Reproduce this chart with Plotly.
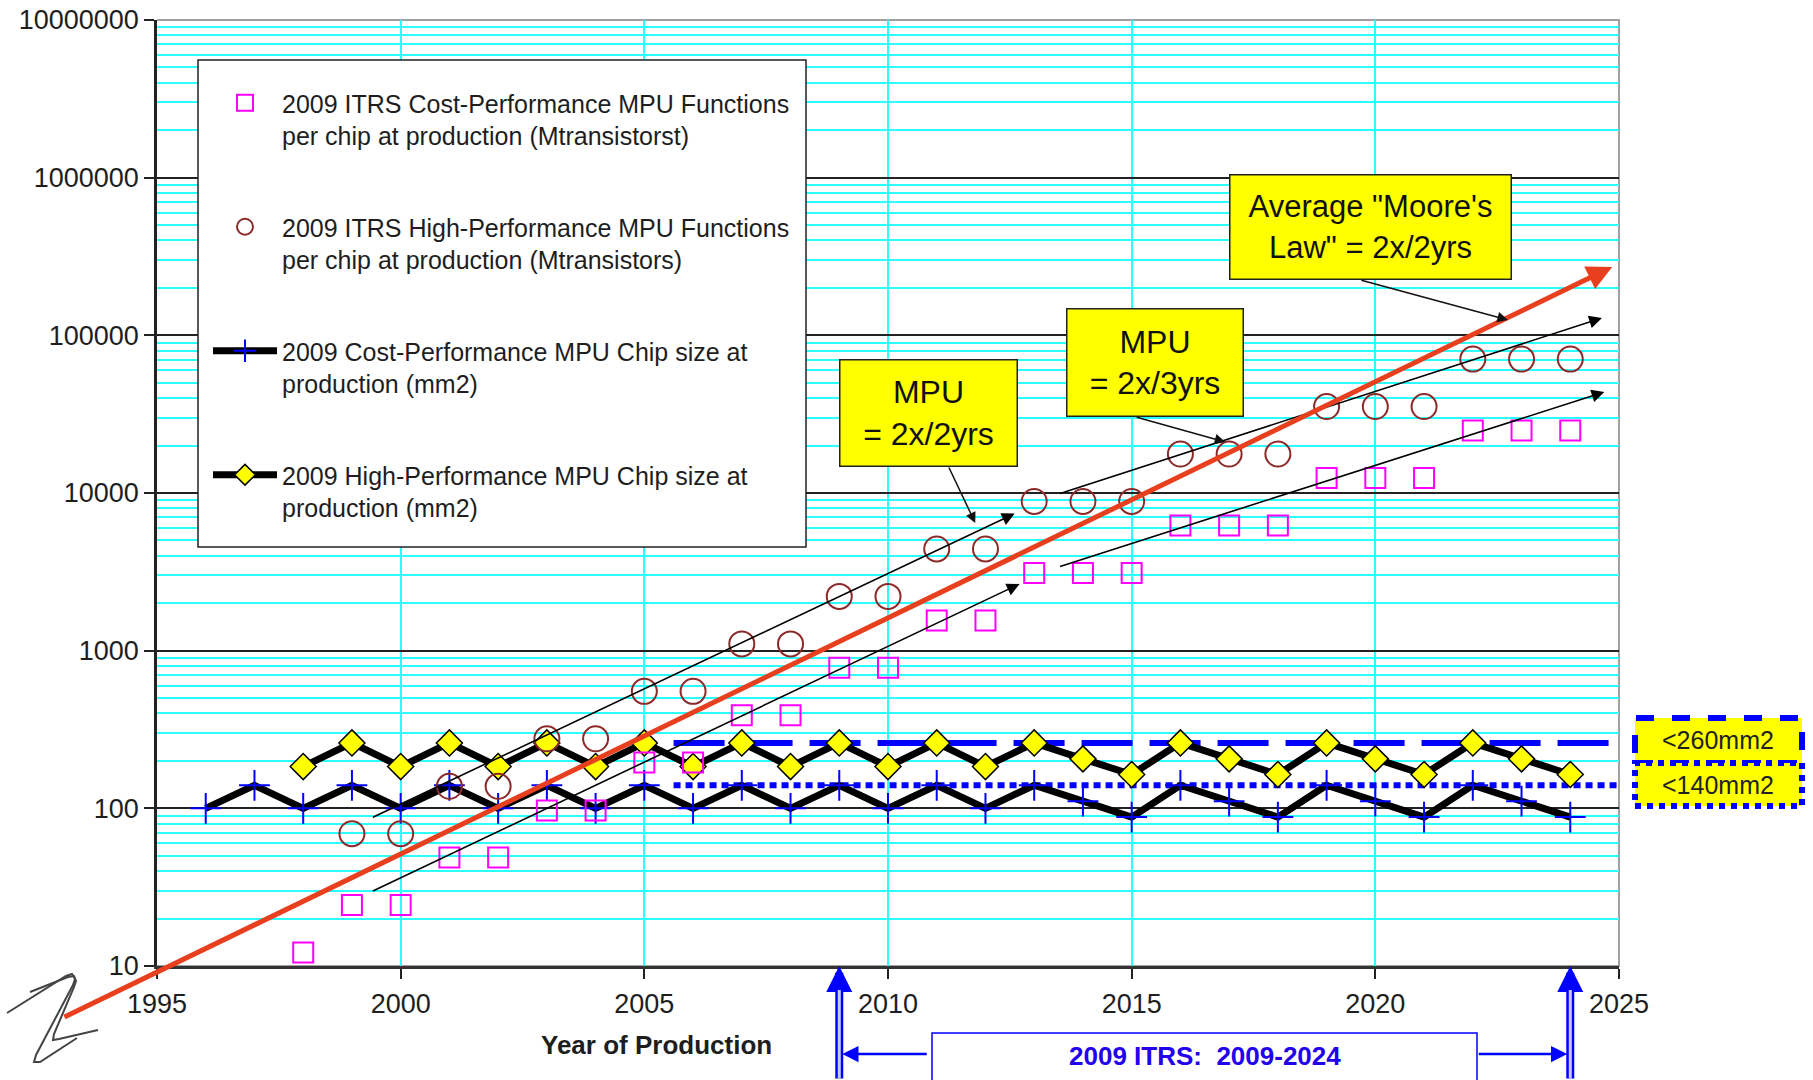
import numpy as np
import plotly.graph_objects as go

# ---------------- data ----------------
cp_fn_years = list(range(1998, 2025))
cp_functions = [12.2, 24.4, 24.4, 48.7, 48.7, 97, 97, 195, 195, 389, 389, 778, 778,
                1556, 1556, 3111, 3111, 3111, 6222, 6222, 6222, 12445, 12445, 12445,
                24890, 24890, 24890]

hp_fn_years = list(range(1999, 2025))
hp_functions = [69, 69, 138, 138, 276, 276, 552, 552, 1104, 1104, 2209, 2209, 4417, 4417,
                8834, 8834, 8834, 17668, 17668, 17668, 35337, 35337, 35337,
                70674, 70674, 70674]

cp_chip_years = list(range(1996, 2025))
cp_chip_size = [100, 140, 100, 140, 100, 140, 100, 140, 100, 140, 100, 140, 100, 140, 100,
                140, 100, 140, 111, 88, 140, 111, 88, 140, 111, 88, 140, 111, 88]

hp_chip_years = list(range(1998, 2025))
hp_chip_size = [184, 260, 184, 260, 184, 260, 184, 260, 184, 260, 184, 260, 184, 260, 184,
                260, 206, 164, 260, 206, 164, 260, 206, 164, 260, 206, 164]

limit_start = 2005.6
limit_end = 2025
limit_values = [260, 140]
limit_labels = ["<260mm2", "<140mm2"]

# trend arrows: start/end year and value
trend_x0 = [1999.4, 1999.4, 2013.5, 2013.5]
trend_y0 = [87, 29.6, 9860, 3400]
trend_x1 = [2012.6, 2012.7, 2024.65, 2024.7]
trend_y1 = [7400, 2650, 128800, 43700]

moore_years = [1993.07, 2024.86]
moore_values = [4.7, 271600]

itrs_window = [2009, 2024]

x_ticks = [1995, 2000, 2005, 2010, 2015, 2020, 2025]
y_ticks = [10, 100, 1000, 10000, 100000, 1000000, 10000000]
y_ticktext = ["10", "100", "1000", "10000", "100000", "1000000", "10000000"]

# ---------------- geometry helpers (canvas pixels -> paper) ----------------
W, H = 1813, 1080
ML, MR, MT, MB = 157, 194, 20, 114
PW, PH = W - ML - MR, H - MT - MB


def px(x):
    return (x - ML) / PW


def py(y):
    return (H - MB - y) / PH


FONT = "Liberation Sans, Arial, sans-serif"
TXT = "#1e1e1e"
CYAN = "#2cffff"
BLUE = "#0000ff"

fig = go.Figure()

# reference levels for chip size
fig.add_trace(go.Scatter(x=[limit_start, limit_end], y=[limit_values[0]] * 2, mode="lines",
                         line=dict(color=BLUE, width=6, dash="51px,17px"),
                         showlegend=False, hoverinfo="skip"))
fig.add_trace(go.Scatter(x=[limit_start, limit_end], y=[limit_values[1]] * 2, mode="lines",
                         line=dict(color=BLUE, width=6, dash="7px,5px"),
                         showlegend=False, hoverinfo="skip"))

fig.add_trace(go.Scatter(
    x=cp_chip_years, y=cp_chip_size, mode="lines+markers",
    name="2009 Cost-Performance MPU Chip size at<br>production (mm2)",
    line=dict(color="black", width=7),
    marker=dict(symbol="cross-thin-open", size=22, color=BLUE, line=dict(color=BLUE, width=2)),
    legendgroup="c", legendrank=3))
fig.add_trace(go.Scatter(
    x=hp_chip_years, y=hp_chip_size, mode="lines+markers",
    name="2009 High-Performance MPU Chip size at<br>production (mm2)",
    line=dict(color="black", width=7),
    marker=dict(symbol="diamond", size=20, color="#ffff00", line=dict(color="black", width=1.5)),
    legendgroup="d", legendrank=4))
fig.add_trace(go.Scatter(
    x=cp_fn_years, y=cp_functions, mode="markers",
    name="2009 ITRS Cost-Performance MPU Functions<br>per chip at production (Mtransistorst)",
    marker=dict(symbol="square-open", size=20, color="#ff00ff", line=dict(width=2)),
    legendgroup="a", legendrank=1))
fig.add_trace(go.Scatter(
    x=hp_fn_years, y=hp_functions, mode="markers",
    name="2009 ITRS High-Performance MPU Functions<br>per chip at production (Mtransistors)",
    marker=dict(symbol="circle-open", size=25, color="#8c2a2a", line=dict(width=2)),
    legendgroup="b", legendrank=2))

shapes = []
annotations = []

# legend frame
shapes.append(dict(type="rect", xref="paper", yref="paper", x0=px(198), x1=px(806),
                   y0=py(547), y1=py(60), fillcolor="white",
                   line=dict(color="#222", width=1.5), layer="above"))
# top / right border of the plot area
shapes.append(dict(type="path", xref="paper", yref="paper", path="M0,0 L1,0 L1,1 L0,1",
                   line=dict(color="#a0a0a0", width=2), layer="between"))

# trend arrows
for x0, y0, x1, y1 in zip(trend_x0, trend_y0, trend_x1, trend_y1):
    annotations.append(dict(x=x1, y=np.log10(y1), ax=x0, ay=np.log10(y0),
                            xref="x", yref="y", axref="x", ayref="y", text="",
                            showarrow=True, arrowhead=2, arrowsize=1.6, arrowwidth=1.6,
                            arrowcolor="black"))

# average Moore's law line
annotations.append(dict(x=moore_years[1], y=np.log10(moore_values[1]),
                        ax=moore_years[0], ay=np.log10(moore_values[0]),
                        xref="x", yref="y", axref="x", ayref="y", text="",
                        showarrow=True, arrowhead=2, arrowsize=1.0, arrowwidth=5,
                        arrowcolor="#e8401e"))

# callout boxes
def callout(text, x0, x1, y0, y1, size):
    annotations.append(dict(x=px((x0 + x1) / 2), y=py((y0 + y1) / 2), xref="paper", yref="paper",
                            text=text, showarrow=False, bgcolor="#ffff00", bordercolor="#222",
                            borderwidth=1.5, borderpad=0, width=x1 - x0 - 3, height=y1 - y0 - 3,
                            font=dict(family=FONT, size=size, color="#111"),
                            xanchor="center", yanchor="middle", align="center"))


callout("Average \"Moore's<br>Law\" = 2x/2yrs", 1229, 1512, 174, 280, 31)
callout("MPU<br>= 2x/2yrs", 839, 1018, 359, 467, 32)
callout("MPU<br>= 2x/3yrs", 1066, 1244, 308, 417, 32)

# callout pointers (tip in data coordinates, tail offset in pixels)
for tx, ty, axp, ayp in [(2011.79, 3.810, -27, -57), (2016.92, 4.324, -90, -25),
                         (2022.72, 5.098, -148, -40)]:
    annotations.append(dict(x=tx, y=ty, xref="x", yref="y", ax=axp, ay=ayp, text="",
                            showarrow=True, arrowhead=2, arrowsize=1.4, arrowwidth=1.5,
                            arrowcolor="#111"))

# chip size limit boxes
shapes.append(dict(type="rect", xref="paper", yref="paper", x0=px(1635), x1=px(1802),
                   y0=py(763), y1=py(718), fillcolor="#ffff00",
                   line=dict(color=BLUE, width=6, dash="dash")))
shapes.append(dict(type="rect", xref="paper", yref="paper", x0=px(1635), x1=px(1802),
                   y0=py(806), y1=py(763), fillcolor="#ffff00",
                   line=dict(color=BLUE, width=6, dash="dot")))
for lbl, yc in zip(limit_labels, [740, 785]):
    annotations.append(dict(x=px(1718), y=py(yc), xref="paper", yref="paper", text=lbl,
                            showarrow=False, font=dict(family=FONT, size=25, color="#222"),
                            xanchor="center", yanchor="middle"))

# axis title
annotations.append(dict(x=px(656), y=py(1045), xref="paper", yref="paper",
                        text="<b>Year of Production</b>", showarrow=False,
                        font=dict(family=FONT, size=26, color=TXT),
                        xanchor="center", yanchor="middle"))

# ITRS window markers below the axis
for yr in itrs_window:
    annotations.append(dict(x=yr, y=0, xref="x", yref="paper", ax=0, ay=118, text="",
                            showarrow=True, arrowhead=2, arrowsize=0.65, arrowwidth=8,
                            arrowcolor=BLUE))
    annotations.append(dict(x=yr, y=py(990), xref="x", yref="paper", ax=0, ay=95, text="",
                            showarrow=True, arrowhead=0, arrowwidth=3, arrowcolor="#c8c8ff"))

shapes.append(dict(type="rect", xref="paper", yref="paper", x0=px(932), x1=px(1477),
                   y0=py(1090), y1=py(1033), fillcolor="white",
                   line=dict(color=BLUE, width=1.5)))
annotations.append(dict(x=px(1205), y=py(1056), xref="paper", yref="paper",
                        text="<b>2009 ITRS:  2009-2024</b>", showarrow=False,
                        font=dict(family=FONT, size=26, color="#2200ee"),
                        xanchor="center", yanchor="middle"))
annotations.append(dict(x=itrs_window[0], y=py(1054), xref="x", yref="paper", ax=89, ay=0,
                        text="", showarrow=True, arrowhead=2, arrowsize=1.3, arrowwidth=2.5,
                        arrowcolor=BLUE, standoff=3))
annotations.append(dict(x=itrs_window[1], y=py(1054), xref="x", yref="paper", ax=-93, ay=0,
                        text="", showarrow=True, arrowhead=2, arrowsize=1.3, arrowwidth=2.5,
                        arrowcolor=BLUE, standoff=3))

# axis break glyph
def glyph(pts):
    return " ".join(("M" if i == 0 else "L") + f"{px(a):.5f},{py(b):.5f}" for i, (a, b) in enumerate(pts))


for pts in [[(7, 1013), (66, 976), (72, 974), (75, 979), (73, 985), (36, 1055), (34, 1062),
             (40, 1062), (77, 1038)],
            [(30, 992), (68, 977), (74, 976), (76, 981), (74, 987), (54, 1034), (53, 1040),
             (59, 1039), (98, 1030)]]:
    shapes.append(dict(type="path", xref="paper", yref="paper", path=glyph(pts),
                       line=dict(color="#444", width=2)))

fig.update_layout(
    width=W, height=H,
    margin=dict(l=ML, r=MR, t=MT, b=MB, pad=0, autoexpand=False),
    paper_bgcolor="white", plot_bgcolor="white",
    font=dict(family=FONT, color=TXT),
    shapes=shapes, annotations=annotations,
    legend=dict(x=px(208), y=py(80), xanchor="left", yanchor="top",
                bgcolor="rgba(0,0,0,0)", borderwidth=0,
                font=dict(family=FONT, size=25, color=TXT),
                itemwidth=64, valign="top", tracegroupgap=56,
                traceorder="grouped"),
    xaxis=dict(range=[1995, 2025], tickvals=x_ticks, ticks="outside", ticklen=10,
               tickcolor="#222", tickwidth=1.5, showline=True, linecolor="#333", linewidth=3,
               showgrid=True, gridcolor=CYAN, gridwidth=2, zeroline=False, automargin=False,
               tickfont=dict(family=FONT, size=27, color=TXT), ticklabelstandoff=2),
    yaxis=dict(type="log", range=[1, 7], tickvals=y_ticks, ticktext=y_ticktext,
               ticks="outside", ticklen=10, tickcolor="#222", tickwidth=1.5,
               showline=True, linecolor="#222", linewidth=2.5, automargin=False,
               showgrid=True, gridcolor="#222", gridwidth=1.5, zeroline=False,
               tickfont=dict(family=FONT, size=27, color=TXT),
               minor=dict(dtick="D1", showgrid=True, gridcolor=CYAN, gridwidth=2, ticks="")),
)

fig.write_html("out.html")
